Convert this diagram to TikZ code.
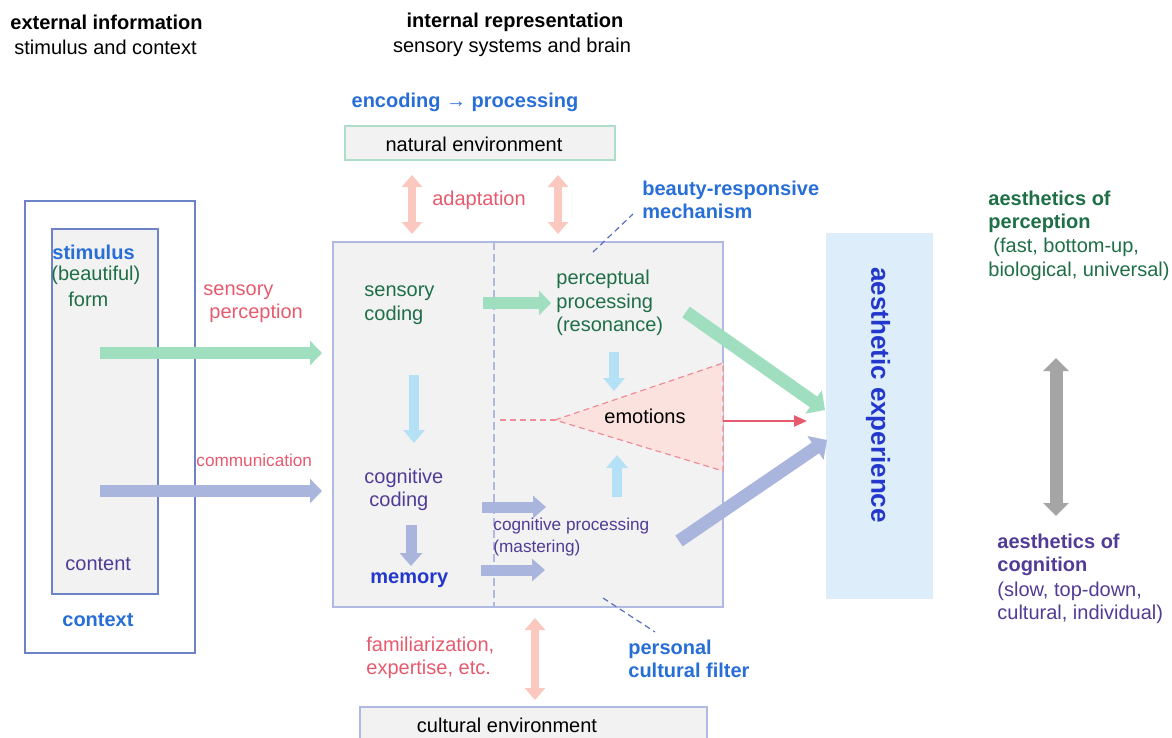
\documentclass[tikz,border=0pt]{standalone}
\usepackage{fontspec}
\setmainfont{Liberation Sans}
\usetikzlibrary{arrows.meta,calc}
\definecolor{headblue}{RGB}{40,110,215}
\definecolor{deepblue}{RGB}{35,55,205}
\definecolor{txtgreen}{RGB}{30,110,70}
\definecolor{txtpurple}{RGB}{80,60,150}
\definecolor{txtpink}{RGB}{230,90,110}
\definecolor{arrgreen}{RGB}{160,222,192}
\definecolor{arrlav}{RGB}{170,181,222}
\definecolor{arrsky}{RGB}{180,225,246}
\definecolor{arrpink}{RGB}{250,200,190}
\definecolor{arrgray}{RGB}{165,165,165}
\definecolor{boxgray}{RGB}{242,242,242}
\definecolor{boxedge}{RGB}{175,185,225}
\definecolor{ctxedge}{RGB}{110,130,200}
\definecolor{envedge}{RGB}{175,222,200}
\definecolor{aesbox}{RGB}{221,238,250}
\definecolor{emofill}{RGB}{252,226,222}
\definecolor{emoedge}{RGB}{240,140,150}
\definecolor{filterline}{RGB}{90,110,190}

\tikzset{
  lbl/.style={inner sep=0pt, align=left, font=\fontsize{10}{11.8}\selectfont},
  small/.style={lbl, font=\fontsize{8.6}{10.6}\selectfont},
  bold/.style={lbl, font=\fontsize{10}{11.8}\selectfont\bfseries},
  greenarrow/.style={draw=arrgreen, line width=6pt, -{Triangle[width=12pt,length=6pt]}},
  lavarrow/.style={draw=arrlav, line width=5.5pt, -{Triangle[width=11pt,length=6.5pt]}},
  skyarrow/.style={draw=arrsky, line width=5pt, -{Triangle[width=10.5pt,length=6.5pt]}},
  pinkdouble/.style={draw=arrpink, line width=4pt, {Triangle[width=10pt,length=6pt]}-{Triangle[width=10pt,length=6pt]}},
  graydouble/.style={draw=arrgray, line width=6.5pt, {Triangle[width=12.5pt,length=6.5pt]}-{Triangle[width=12.5pt,length=6.5pt]}},
  filterdash/.style={draw=filterline, line width=0.6pt, dash pattern=on 3pt off 2pt},
}

\begin{document}
\begin{tikzpicture}[x=0.5pt, y=-0.5pt]
\useasboundingbox (0,0) rectangle (1172,738);

% ============ HEADINGS ============
\node[bold, anchor=west] (extinfo) at (10,22) {external information};
\node[lbl, anchor=west] (extsub) at (14,47) {stimulus and context};
\node[bold] (intrep) at (515,22) {internal representation};
\node[lbl] (intsub) at (512,47) {sensory systems and brain};
\node[bold, text=headblue] (encproc) at (465,102) {encoding → processing};

% ============ NATURAL ENVIRONMENT ============
\node[lbl, draw=envedge, line width=0.8pt, fill=boxgray, minimum width=135pt, minimum height=17pt] (natenv) at (480,143) {};
\node[lbl] (natlbl) at (474,144) {natural environment};
\coordinate (adaptL1) at (412,175);
\coordinate (adaptL2) at (412,234);
\coordinate (adaptR1) at (558,175);
\coordinate (adaptR2) at (558,234);
\draw[pinkdouble] (adaptL1) -- (adaptL2);
\draw[pinkdouble] (adaptR1) -- (adaptR2);
\node[lbl, text=txtpink] (adapt) at (479,200) {adaptation};

% ============ CONTEXT / STIMULUS ============
\draw[ctxedge, line width=0.8pt] (25,201) rectangle (195,653);
\draw[ctxedge, line width=0.8pt, fill=boxgray] (52,229) rectangle (158,594);
\node[bold, text=headblue, anchor=west] (stim) at (52,252) {stimulus};
\node[lbl, text=txtgreen, anchor=west] (beautif) at (51,275) {(beautiful)};
\node[lbl, text=txtgreen, anchor=west] (form) at (68,299) {form};
\node[lbl, text=txtpurple, anchor=west] (content) at (65,564) {content};
\node[bold, text=headblue, anchor=west] (context) at (62,620) {context};

% ============ BRAIN BOX ============
\draw[boxedge, line width=1pt, fill=boxgray] (333,242) rectangle (723,607);
\draw[boxedge, line width=1pt, dash pattern=on 4pt off 2pt] (494,242) -- (494,607);

% emotions wedge
\coordinate (emoTip) at (555,420);
\coordinate (emoTop) at (723,363);
\coordinate (emoBot) at (723,471);
\coordinate (emoTail) at (500,420);
\draw[emoedge, fill=emofill, line width=0.6pt, dash pattern=on 3pt off 2pt] (emoTip) -- (emoTop) -- (emoBot) -- cycle;
\draw[emoedge, line width=0.6pt, dash pattern=on 3pt off 2pt] (emoTail) -- (emoTip);
\node[lbl] (emotions) at (645,416) {emotions};

% beauty-responsive mechanism + pointer
\node[bold, text=headblue, anchor=west] (beauty) at (642,200) {beauty-responsive\\mechanism};
\coordinate (beautyPt) at (593,252);
\coordinate (beautyEnd) at (633,214);
\draw[filterdash] (beautyPt) -- (beautyEnd);

% inner texts
\node[lbl, text=txtgreen, anchor=west] (senscod) at (364,305) {sensory\\coding};
\node[lbl, text=txtpurple, anchor=west] (cogcod) at (364,490) {cognitive\\\hspace*{2.5pt}coding};
\node[bold, text=deepblue, anchor=west] (memory) at (370,580) {memory};
\node[lbl, text=txtgreen, anchor=west] (percproc) at (556,303) {perceptual\\processing\\(resonance)};
\node[small, text=txtpurple, anchor=west] (cogproc) at (493,537) {cognitive processing\\(mastering)};

% inner arrows
\coordinate (sc1) at (483,303);  \coordinate (sc2) at (551,303);
\draw[greenarrow] (sc1) -- (sc2);
\coordinate (sd1) at (414,375);  \coordinate (sd2) at (414,443);
\draw[skyarrow] (sd1) -- (sd2);
\coordinate (pd1) at (614,352);  \coordinate (pd2) at (614,391);
\draw[skyarrow] (pd1) -- (pd2);
\coordinate (cu1) at (617,497);  \coordinate (cu2) at (617,455);
\draw[skyarrow] (cu1) -- (cu2);
\coordinate (md1) at (411,525);  \coordinate (md2) at (411,566);
\draw[lavarrow] (md1) -- (md2);
\coordinate (cc1) at (482,507);  \coordinate (cc2) at (546,507);
\draw[lavarrow] (cc1) -- (cc2);
\coordinate (mc1) at (481,570);  \coordinate (mc2) at (545,570);
\draw[lavarrow] (mc1) -- (mc2);

% ============ INPUT ARROWS ============
\coordinate (formOut) at (100,353);  \coordinate (brainIn1) at (322,353);
\draw[greenarrow] (formOut) -- (brainIn1);
\coordinate (contOut) at (100,491);  \coordinate (brainIn2) at (322,491);
\draw[lavarrow, line width=6pt, -{Triangle[width=12pt,length=6pt]}] (contOut) -- (brainIn2);
\node[lbl, text=txtpink, anchor=west] (sensperc) at (203,303.5) {sensory\\\hspace*{3pt}perception};
\node[small, text=txtpink, anchor=west] (commun) at (196,460) {communication};

% ============ AESTHETIC EXPERIENCE ============
\fill[aesbox] (826,233) rectangle (933,599);
\node[inner sep=0pt, text=deepblue, font=\fontsize{13}{15}\selectfont\bfseries, rotate=-90] (aesexp) at (878,395) {aesthetic experience};
\coordinate (percOut) at (686,312);  \coordinate (aesIn1) at (825,410);
\draw[greenarrow, line width=6.5pt, -{Triangle[width=14pt,length=7pt]}] (percOut) -- (aesIn1);
\coordinate (cogOut) at (679,541);  \coordinate (aesIn2) at (827,440);
\draw[lavarrow, line width=6.5pt, -{Triangle[width=14pt,length=7pt]}] (cogOut) -- (aesIn2);
\coordinate (emoOut) at (723,421);  \coordinate (aesIn3) at (807,421);
\draw[txtpink, line width=1.2pt, -{Triangle[width=5.5pt,length=6.5pt]}] (emoOut) -- (aesIn3);

% ============ RIGHT COLUMN ============
\node[bold, text=txtgreen, anchor=west] (aesperc) at (988,212) {aesthetics of\\perception};
\node[lbl, text=txtgreen, anchor=west] (percdesc) at (988,259.5) {\hspace*{2.5pt}(fast, bottom-up,\\biological, universal)};
\coordinate (axTop) at (1056,358);  \coordinate (axBot) at (1056,516);
\draw[graydouble] (axTop) -- (axBot);
\node[bold, text=txtpurple, anchor=west] (aescog) at (997,555) {aesthetics of\\cognition};
\node[lbl, text=txtpurple, anchor=west] (cogdesc) at (997,603) {(slow, top-down,\\cultural, individual)};

% ============ CULTURAL ENVIRONMENT ============
\coordinate (cultTop) at (535,618);  \coordinate (cultBot) at (535,700);
\draw[pinkdouble] (cultTop) -- (cultBot);
\node[lbl, text=txtpink, anchor=west] (famil) at (366,658) {familiarization,\\expertise, etc.};
\coordinate (filterPt) at (603,598);  \coordinate (filterEnd) at (655,632);
\draw[filterdash] (filterPt) -- (filterEnd);
\node[bold, text=headblue, anchor=west] (filter) at (628,659) {personal\\cultural filter};
\draw[boxedge, line width=0.8pt, fill=boxgray] (360,707) rectangle (707,760);
\node[lbl] (cultenv) at (507,725) {cultural environment};
\end{tikzpicture}
\end{document}
